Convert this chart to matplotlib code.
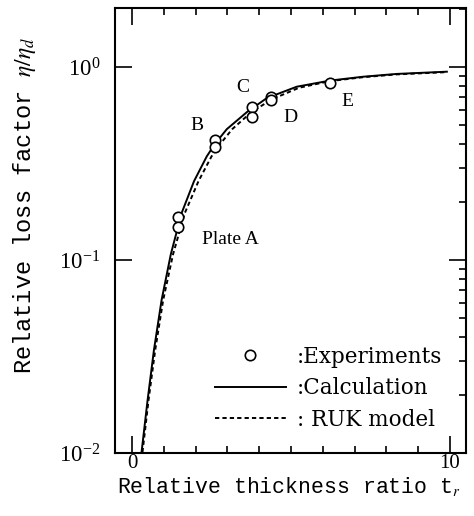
import matplotlib
matplotlib.use("Agg")
from matplotlib import pyplot as plt
from matplotlib.ticker import FixedLocator, MultipleLocator, LogLocator, NullFormatter

# measured points (plates A-E)
x_exp = [1.45, 1.45, 2.61, 2.61, 3.77, 3.77, 4.37, 4.37, 6.23]
y_exp = [0.167, 0.148, 0.418, 0.385, 0.62, 0.55, 0.70, 0.675, 0.826]

# calculation curve
x_calc = [0.30, 0.49, 0.69, 0.93, 1.22, 1.56, 1.95, 2.35, 2.61, 2.98, 3.61, 4.24, 5.18, 6.23, 7.27, 8.32, 9.9]
y_calc = [0.0101, 0.0188, 0.0342, 0.062, 0.107, 0.175, 0.256, 0.344, 0.40, 0.476, 0.583, 0.69, 0.79, 0.85, 0.89, 0.92, 0.945]

# RUK model curve
x_ruk = [0.33, 0.52, 0.73, 0.98, 1.29, 1.66, 2.09, 2.50, 2.78, 3.15, 3.75, 4.40, 5.25, 6.23, 7.27, 8.32, 9.9]
y_ruk = [0.0101, 0.0188, 0.0342, 0.062, 0.107, 0.175, 0.256, 0.344, 0.40, 0.476, 0.583, 0.68, 0.78, 0.845, 0.885, 0.915, 0.94]

plate_names = ["Plate A", "B", "C", "D", "E"]
plate_x = [3.08, 2.04, 3.49, 4.97, 6.76]
plate_y = [0.127, 0.50, 0.778, 0.55, 0.66]

plt.rcParams["font.family"] = "Liberation Serif"
plt.rcParams["mathtext.fontset"] = "stix"

fig = plt.figure(figsize=(4.74, 5.16), dpi=100)
ax = fig.add_axes([0.2426, 0.122, 0.7404, 0.8625])

l_calc, = ax.plot(x_calc, y_calc, color="k", lw=1.4)
l_ruk, = ax.plot(x_ruk, y_ruk, color="k", lw=1.4, ls=(0, (2.2, 1.6)))
l_exp, = ax.plot(x_exp, y_exp, ls="none", marker="o", ms=7.5, mfc="white", mec="k", mew=1.2)

for name, px, py in zip(plate_names, plate_x, plate_y):
    ax.text(px, py, name, ha="center", va="center", fontsize=14)

ax.set_yscale("log")
ax.set_xlim(-0.535, 10.5)
ax.set_ylim(0.01, 2.02)

ax.xaxis.set_major_locator(FixedLocator([0, 10]))
ax.xaxis.set_minor_locator(MultipleLocator(1))
ax.yaxis.set_major_locator(FixedLocator([0.01, 0.1, 1]))
ax.yaxis.set_minor_locator(LogLocator(subs=range(2, 10)))
ax.yaxis.set_minor_formatter(NullFormatter())

ax.tick_params(which="both", direction="in", top=True, right=True, width=1.2)
ax.tick_params(which="major", length=12, labelsize=15)
ax.tick_params(axis="x", which="major", pad=1)
ax.tick_params(axis="y", which="major", pad=10.5, labelsize=16.5)
ax.tick_params(which="minor", length=5)
ax.tick_params(axis="y", which="minor", left=False)
for s in ax.spines.values():
    s.set_linewidth(1.5)

ax.set_xlabel("Relative thickness ratio t$_r$", family="Liberation Mono", fontsize=15.5)
ax.set_ylabel(r"Relative loss factor $\eta/\eta_d$", family="Liberation Mono", fontsize=17)
ax.xaxis.set_label_coords(0.496, -0.05)
ax.yaxis.set_label_coords(-0.219, 0.557)

ax.legend([l_exp, l_calc, l_ruk], [":Experiments", ":Calculation", ": RUK model"],
          loc="lower right", bbox_to_anchor=(0.9325, 0.1647), bbox_transform=fig.transFigure,
          frameon=False, prop={"family": "DejaVu Serif", "size": 15.5},
          handlelength=3.3, handletextpad=0.5,
          labelspacing=0.45, borderpad=0, borderaxespad=0)

fig.savefig("out.png", dpi=100)
